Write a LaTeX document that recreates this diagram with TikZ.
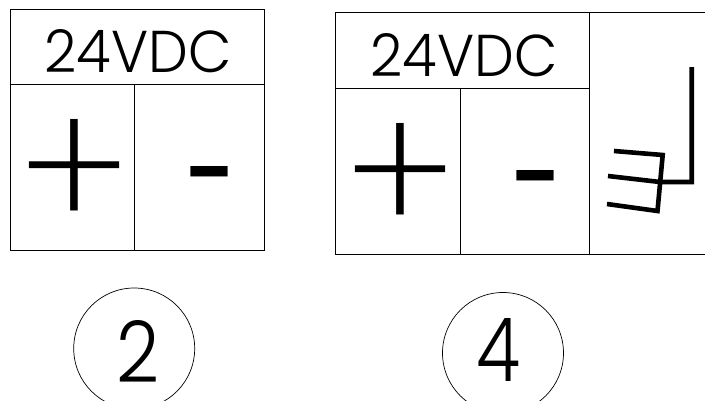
\documentclass[tikz,border=0pt]{standalone}
\usepackage{fontspec}
\usepackage{graphicx}
\setmainfont{Poppins}
\newfontfamily\lightfont{Poppins Light}
\newfontfamily\xlightfont{Poppins ExtraLight}
\newfontfamily\boldfont{Poppins Bold}
\tikzset{
  frameline/.style={draw=black,line width=0.9pt},
  thickline/.style={draw=black,line width=4.6pt,line cap=butt,line join=miter},
  labeltext/.style={inner sep=0pt,outer sep=0pt,anchor=center,font=\lightfont},
  plustext/.style={inner sep=0pt,outer sep=0pt,anchor=center,font=\xlightfont},
  minustext/.style={inner sep=0pt,outer sep=0pt,anchor=center,font=\boldfont},
  ringnode/.style={circle,draw=black,line width=0.7pt,minimum size=121pt,inner sep=0pt}
}
\newcommand{\fitglyph}[3]{\resizebox{#1pt}{#2pt}{#3}}
\begin{document}
\begin{tikzpicture}[x=1pt,y=-1pt]
\useasboundingbox (0,0) rectangle (705,400);
\begin{scope}
\clip (0,0) rectangle (705,400);
% left panel
\node[frameline,minimum width=254pt,minimum height=241pt,inner sep=0pt,anchor=north west] (boxa) at (9.5,9) {};
\coordinate (a1) at (9.5,84);
\coordinate (a2) at (263.5,84);
\coordinate (a3) at (134.5,84);
\coordinate (a4) at (134.5,250);
\draw[frameline] (a1) -- (a2);
\draw[frameline] (a3) -- (a4);
\node[labeltext] (avdc) at (138,51.5) {\fitglyph{187}{43}{24VDC}};
\node[plustext] (aplus) at (74.5,176) {\fitglyph{110}{113}{+}};
\node[minustext] (aminus) at (211,181.5) {\fitglyph{49}{31}{-}};
\node[ringnode] (ringa) at (134.2,348.5) {};
\node[labeltext] (atwo) at (138.5,351) {\fitglyph{43}{62}{2}};
% right panel
\coordinate (b1) at (335.5,12);
\coordinate (b11) at (705,12);
\coordinate (b3) at (335.5,254);
\coordinate (b4) at (705,254);
\coordinate (b5) at (335.5,88);
\coordinate (b6) at (590,88);
\coordinate (b7) at (460.5,88);
\coordinate (b8) at (460.5,254);
\coordinate (b9) at (589.5,12);
\coordinate (b10) at (589.5,254);
\draw[frameline] (b11) -- (b1) -- (b3) -- (b4);
\draw[frameline] (b5) -- (b6);
\draw[frameline] (b7) -- (b8);
\draw[frameline] (b9) -- (b10);
\node[labeltext] (bvdc) at (464,55.5) {\fitglyph{187}{43}{24VDC}};
\node[plustext] (bplus) at (400.5,180) {\fitglyph{110}{113}{+}};
\node[minustext] (bminus) at (537,185.5) {\fitglyph{49}{31}{-}};
\node[ringnode] (ringb) at (503,353) {};
\node[labeltext] (bfour) at (499,350) {\fitglyph{44}{63}{4}};
% relay symbol
\coordinate (r1) at (691.7,67);
\coordinate (r2) at (691.7,182);
\coordinate (r3) at (660,182);
\coordinate (r4) at (608,176);
\coordinate (r5) at (614,151);
\coordinate (r6) at (662.7,155);
\coordinate (r7) at (657.5,211);
\coordinate (r8) at (607,204);
\draw[thickline] (r1) -- (r2) -- (r3) -- (r4);
\draw[thickline] (r5) -- (r6) -- (r7) -- (r8);
\end{scope}
\end{tikzpicture}
\end{document}
